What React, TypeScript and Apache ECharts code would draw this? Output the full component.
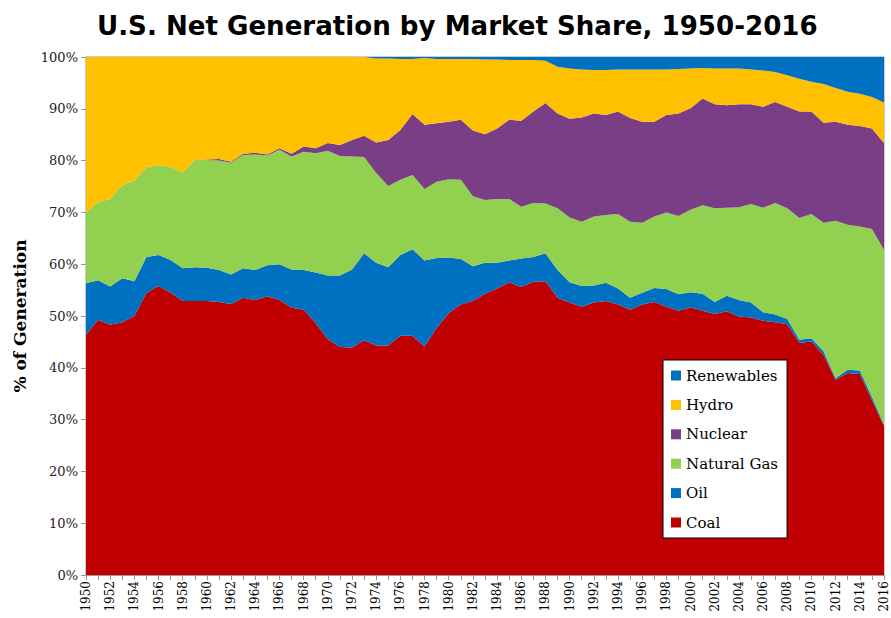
import React, { useEffect, useRef } from "react";
import * as echarts from "echarts";

const years: string[] = [];
for (let y = 1950; y <= 2016; y++) years.push(String(y));

const coal = [46.4,49.3,48.3,48.8,50.0,54.5,55.8,54.5,52.9,52.9,52.9,52.7,52.3,53.5,53.1,53.8,53.1,51.6,51.2,48.6,45.5,44.0,43.9,45.3,44.3,44.3,46.2,46.2,44.1,47.7,50.6,52.2,52.9,54.3,55.3,56.5,55.6,56.6,56.7,53.5,52.6,51.8,52.6,52.9,52.2,51.2,52.2,52.7,51.8,51.0,51.7,51.0,50.4,50.9,49.9,49.7,49.1,48.8,48.4,44.8,45.1,42.5,37.7,39.0,38.8,33.8,28.7];
const oil = [9.9,7.6,7.4,8.5,6.7,6.9,6.0,6.3,6.3,6.5,6.4,6.2,5.7,5.7,5.8,6.0,6.9,7.4,7.7,9.8,12.3,13.8,15.1,16.8,16.0,15.1,15.6,16.7,16.6,13.5,10.7,8.8,6.7,6.0,5.0,4.2,5.5,4.8,5.4,5.4,3.9,4.0,3.3,3.5,3.1,2.3,2.3,2.7,3.4,3.2,2.9,3.3,2.3,3.0,3.2,2.9,1.6,1.5,1.0,0.6,0.6,0.7,0.3,0.6,0.7,0.6,0.3];
const naturalGas = [13.6,15.1,16.9,18.0,19.4,17.3,17.3,18.0,18.5,20.7,20.8,21.1,21.6,21.9,22.3,21.2,22.1,21.8,22.8,23.0,24.1,23.1,21.8,18.6,17.3,15.7,14.5,14.3,13.8,14.7,15.1,15.3,13.5,12.1,12.3,11.9,10.0,10.4,9.6,11.9,12.5,12.4,13.3,13.1,14.4,14.7,13.5,13.8,14.8,15.1,15.9,17.1,18.1,17.0,17.9,19.0,20.2,21.5,21.4,23.5,24.0,24.8,30.4,28.0,27.8,32.4,33.8];
const nuclear = [0,0,0,0,0,0,0,0,0,0,0.1,0.3,0.2,0.2,0.3,0.2,0.3,0.5,1.0,1.0,1.5,2.1,3.2,4.1,5.9,8.9,9.6,11.8,12.4,11.3,11.1,11.6,12.7,12.7,13.6,15.3,16.6,17.7,19.4,18.3,19.1,20.1,19.9,19.3,19.8,20.0,19.5,18.3,18.8,19.8,19.6,20.6,20.1,19.8,19.9,19.3,19.5,19.5,19.6,20.6,19.8,19.3,19.1,19.3,19.4,19.4,20.6];
const hydro = [30.1,28.0,27.4,24.7,23.9,21.3,20.9,21.2,22.3,19.9,19.8,19.7,20.2,18.7,18.5,18.8,17.6,18.7,17.3,17.6,16.6,17.0,16.0,15.2,16.2,15.7,13.7,10.6,12.9,12.4,12.1,11.7,13.8,14.4,13.3,11.5,11.7,9.9,8.2,9.0,9.7,9.3,8.4,8.7,8.1,9.4,10.1,10.1,8.8,8.6,7.7,5.9,6.9,7.1,6.9,6.7,7.0,5.8,6.1,6.3,5.7,7.5,6.5,6.4,6.2,6.1,7.8];
const renewables = [0,0,0,0,0,0,0,0,0,0,0,0,0,0,0,0,0,0,0,0,0,0,0,0,0.3,0.3,0.4,0.4,0.2,0.4,0.4,0.4,0.4,0.5,0.5,0.6,0.6,0.6,0.7,1.9,2.2,2.4,2.5,2.5,2.4,2.4,2.4,2.4,2.4,2.3,2.2,2.1,2.2,2.2,2.2,2.4,2.6,2.9,3.5,4.2,4.8,5.2,6.0,6.7,7.1,7.7,8.8];

const yTicks = [0, 10, 20, 30, 40, 50, 60, 70, 80, 90, 100];

const seriesDefs = [
  { name: "Coal", data: coal, color: "#C00000" },
  { name: "Oil", data: oil, color: "#0070C0" },
  { name: "Natural Gas", data: naturalGas, color: "#92D050" },
  { name: "Nuclear", data: nuclear, color: "#7A3E87" },
  { name: "Hydro", data: hydro, color: "#FFC000" },
  { name: "Renewables", data: renewables, color: "#0070C0" },
];

const serif = "'DejaVu Serif', 'Liberation Serif', serif";

export default function App() {
  const ref = useRef<HTMLDivElement>(null);
  useEffect(() => {
    if (!ref.current) return;
    const chart = echarts.init(ref.current, undefined, { renderer: "svg" });
    chart.setOption({
      animation: false,
      backgroundColor: "#ffffff",
      title: {
        text: "U.S. Net Generation by Market Share, 1950-2016",
        left: 92,
        top: 8,
        textStyle: {
          fontFamily: "'DejaVu Sans', Verdana, sans-serif",
          fontWeight: "bold",
          fontSize: 26.1,
          color: "#000",
        },
      },
      legend: {
        orient: "vertical",
        left: 663,
        top: 360,
        data: ["Renewables", "Hydro", "Nuclear", "Natural Gas", "Oil", "Coal"],
        icon: "rect",
        itemWidth: 10,
        itemHeight: 10,
        itemGap: 14.4,
        padding: [8, 9, 8, 8],
        backgroundColor: "#ffffff",
        borderColor: "#000",
        borderWidth: 1,
        borderRadius: 0,
        textStyle: { fontFamily: serif, fontSize: 15, color: "#000", lineHeight: 15 },
      },
      grid: {
        left: 86,
        right: 7,
        top: 57,
        bottom: 43,
        show: true,
        borderColor: "#999",
        borderWidth: 1,
        backgroundColor: "transparent",
      },
      xAxis: {
        type: "category",
        data: years,
        boundaryGap: false,
        axisLine: { lineStyle: { color: "#999" } },
        axisTick: { show: true, interval: 0, length: 5, lineStyle: { color: "#999" } },
        axisLabel: {
          interval: 1,
          rotate: 90,
          fontFamily: serif,
          fontSize: 12,
          color: "#000",
          margin: 6,
        },
      },
      yAxis: {
        type: "value",
        min: 0,
        max: 100,
        interval: 10,
        name: "% of Generation",
        nameLocation: "middle",
        nameRotate: 90,
        nameGap: 58,
        nameTextStyle: { fontFamily: serif, fontWeight: "bold", fontSize: 17, color: "#000" },
        axisLine: { show: true, lineStyle: { color: "#999" } },
        axisTick: { show: true, length: 5, lineStyle: { color: "#999" } },
        splitLine: { show: false },
        axisLabel: {
          formatter: (v: number) => (yTicks.includes(v) ? v + "%" : ""),
          fontFamily: serif,
          fontSize: 13,
          color: "#222",
          margin: 8,
        },
      },
      series: seriesDefs.map((s) => ({
        name: s.name,
        type: "line",
        stack: "total",
        data: s.data,
        showSymbol: false,
        symbol: "none",
        lineStyle: { width: 0 },
        areaStyle: { color: s.color, opacity: 1 },
        itemStyle: { color: s.color },
        emphasis: { disabled: true },
      })),
    });
    return () => chart.dispose();
  }, []);
  return <div ref={ref} style={{ width: 891, height: 618, position: "absolute", left: 0, top: 0 }} />;
}
